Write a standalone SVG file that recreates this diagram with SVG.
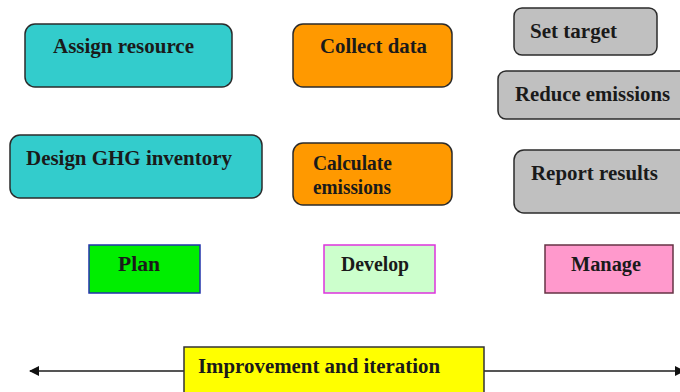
<svg xmlns="http://www.w3.org/2000/svg" width="680" height="392" viewBox="0 0 680 392">
  <defs>
    <style>
      .box { stroke: #2b2b2b; stroke-width: 1.5; }
      .plan-task { fill: #33cccc; }
      .dev-task { fill: #ff9900; }
      .mgmt-task { fill: #c0c0c0; }
      .lbl { font-family: "Liberation Serif", "Times New Roman", serif; font-weight: bold; font-size: 20px; fill: #1a1a1a; }
      .axis { stroke: #555; stroke-width: 2; fill: none; }
    </style>
    <marker id="arrow" viewBox="0 0 10 10" refX="9" refY="5" markerWidth="5" markerHeight="5" orient="auto-start-reverse">
      <path d="M0,0 L10,5 L0,10 z" fill="#111"/>
    </marker>
  </defs>
  <rect width="680" height="392" fill="#ffffff"/>

  <!-- connector: improvement axis -->
  <g id="connectors">
    <line class="axis" x1="30" y1="371" x2="684" y2="371" marker-start="url(#arrow)" marker-end="url(#arrow)"/>
  </g>

  <!-- Plan column -->
  <g id="assign-resource">
    <rect class="box plan-task" x="25" y="24" width="207" height="63" rx="10"/>
    <text class="lbl" x="53" y="53" textLength="141" lengthAdjust="spacingAndGlyphs">Assign resource</text>
  </g>
  <g id="design-ghg-inventory">
    <rect class="box plan-task" x="10" y="135" width="252" height="63" rx="10"/>
    <text class="lbl" x="26" y="165" textLength="206" lengthAdjust="spacingAndGlyphs">Design GHG inventory</text>
  </g>

  <!-- Develop column -->
  <g id="collect-data">
    <rect class="box dev-task" x="293" y="24" width="159" height="63" rx="10"/>
    <text class="lbl" x="320" y="53" textLength="107" lengthAdjust="spacingAndGlyphs">Collect data</text>
  </g>
  <g id="calculate-emissions">
    <rect class="box dev-task" x="293" y="143" width="159" height="62" rx="10"/>
    <text class="lbl" x="313" y="170" textLength="79" lengthAdjust="spacingAndGlyphs">Calculate</text>
    <text class="lbl" x="313" y="194" textLength="78" lengthAdjust="spacingAndGlyphs">emissions</text>
  </g>

  <!-- Manage column -->
  <g id="set-target">
    <rect class="box mgmt-task" x="514" y="8" width="143" height="47" rx="8"/>
    <text class="lbl" x="530" y="38" textLength="87" lengthAdjust="spacingAndGlyphs">Set target</text>
  </g>
  <g id="reduce-emissions">
    <rect class="box mgmt-task" x="498" y="71" width="190" height="48" rx="8"/>
    <text class="lbl" x="515" y="101" textLength="155" lengthAdjust="spacingAndGlyphs">Reduce emissions</text>
  </g>
  <g id="report-results">
    <rect class="box mgmt-task" x="514" y="150" width="176" height="63" rx="10"/>
    <text class="lbl" x="531" y="180" textLength="127" lengthAdjust="spacingAndGlyphs">Report results</text>
  </g>

  <!-- Phase labels -->
  <g id="plan">
    <rect x="89" y="245" width="111" height="48" fill="#00ee00" stroke="#2233aa" stroke-width="1.5"/>
    <text class="lbl" x="118" y="271" textLength="42" lengthAdjust="spacingAndGlyphs">Plan</text>
  </g>
  <g id="develop">
    <rect x="324" y="245" width="111" height="48" fill="#ccffcc" stroke="#dd33dd" stroke-width="1.5"/>
    <text class="lbl" x="341" y="271" textLength="68" lengthAdjust="spacingAndGlyphs">Develop</text>
  </g>
  <g id="manage">
    <rect x="545" y="245" width="128" height="48" fill="#ff99cc" stroke="#663344" stroke-width="1.5"/>
    <text class="lbl" x="571" y="271" textLength="70" lengthAdjust="spacingAndGlyphs">Manage</text>
  </g>

  <g id="improvement-and-iteration">
    <rect x="184" y="347" width="300" height="50" fill="#ffff00" stroke="#333" stroke-width="1.5"/>
    <text class="lbl" x="198" y="373" textLength="242" lengthAdjust="spacingAndGlyphs">Improvement and iteration</text>
  </g>
</svg>
